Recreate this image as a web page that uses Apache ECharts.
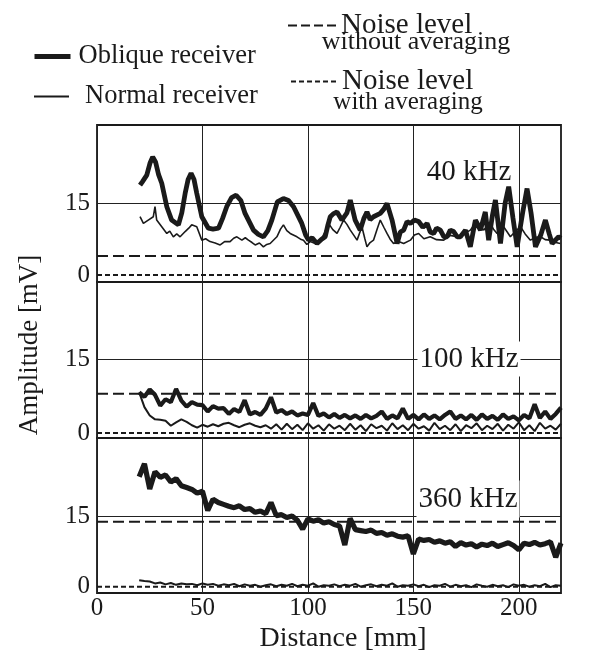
<!DOCTYPE html>
<html><head><meta charset="utf-8">
<script src="https://cdn.jsdelivr.net/npm/echarts@6/dist/echarts.min.js"></script>
<style>html,body{margin:0;padding:0;background:#fff}#c{width:589px;height:660px}</style>
</head><body><div id="c"></div><script>
// ---------- data ----------
const xTicks = [0, 50, 100, 150, 200];
const yTicks = [0, 15];
const panelLabels = ['40 kHz', '100 kHz', '360 kHz'];
const noiseWithout = [4.0, 8.0, 13.9];
const noiseWith = [0, 0, 0];

// 40 kHz  [distance mm, amplitude mV]
const p1Oblique = [[20.4,18.8],[21.5,19.5],[23.6,20.9],[25.2,23.5],[26.4,24.7],[27.8,23.6],[29.2,21.0],[30.7,19.2],[33.1,14.3],[35.4,11.5],[38.6,10.5],[40.2,13.0],[41.8,17.1],[43.2,20.0],[44.6,21.3],[46.0,20.0],[47.3,17.1],[49.7,12.2],[52.8,9.8],[55.0,9.6],[57.6,9.8],[59.5,11.8],[61.5,14.3],[63.8,16.2],[66.0,16.7],[68.2,15.6],[70.2,12.9],[74.2,9.4],[76.5,8.5],[78.9,8.0],[81.0,9.3],[82.9,11.5],[85.5,15.3],[88.4,16.0],[90.8,15.6],[93.2,14.3],[97.1,10.8],[99.0,8.3],[100.3,7.3],[102.0,7.8],[104.3,6.6],[106.5,7.5],[108.2,8.0],[109.5,10.5],[110.6,12.2],[112.0,12.8],[113.8,13.2],[116.1,11.5],[118.5,13.0],[120.1,15.7],[122.4,11.5],[124.8,9.4],[126.5,11.8],[128.0,13.2],[129.5,11.6],[131.1,12.2],[134.3,12.9],[136.0,13.8],[137.5,15.0],[139.9,11.5],[142.3,6.6],[143.8,9.0],[145.4,9.4],[147.0,11.2],[148.6,10.8],[150.5,11.5],[152.5,11.2],[154.5,10.0],[156.5,10.8],[158.0,9.0],[159.6,8.7],[161.0,9.8],[162.8,9.4],[164.5,8.0],[166.0,8.0],[167.5,9.4],[169.1,9.1],[170.8,8.0],[172.3,8.0],[174.7,9.4],[177.0,5.9],[179.4,11.5],[181.8,9.4],[184.1,13.2],[185.7,7.3],[187.5,12.5],[188.9,15.7],[191.3,6.6],[193.5,15.0],[195.2,18.5],[197.2,12.0],[199.2,5.9],[201.8,13.0],[203.9,18.1],[205.8,13.0],[207.9,5.9],[210.5,8.5],[212.6,11.5],[214.5,8.5],[215.8,6.6],[218.9,8.0],[220,7.7]];
const p1Normal = [[20.4,12.2],[22.0,10.8],[24.3,11.5],[26.7,12.2],[27.5,14.3],[28.3,11.5],[30.7,10.1],[33.1,8.7],[34.5,9.2],[36.2,8.0],[37.8,8.6],[39.4,8.0],[41.8,9.1],[43.5,9.8],[44.9,10.5],[47.3,10.1],[49.7,7.3],[51.5,7.6],[53.6,7.0],[56.0,6.7],[58.4,6.3],[60.5,7.0],[63.1,7.0],[64.8,7.7],[66.3,8.0],[68.7,7.3],[70.3,7.8],[71.8,7.3],[73.5,6.8],[75.0,6.3],[77.0,6.7],[78.9,5.9],[80.5,6.4],[82.1,6.6],[85.3,8.0],[87.0,9.6],[88.4,10.5],[90.0,9.3],[91.6,8.7],[94.8,8.0],[96.5,7.5],[97.9,7.3],[99.5,6.4],[101.1,7.0],[103.5,6.6],[105.8,7.0],[107.8,8.8],[109.8,10.8],[111.8,9.5],[113.8,8.7],[115.3,10.0],[116.9,11.5],[118.5,10.6],[120.1,9.4],[121.8,8.3],[123.3,7.3],[125.6,10.1],[127.0,7.6],[128.0,5.9],[129.5,6.8],[131.1,7.3],[132.8,9.6],[134.3,11.5],[136.0,10.0],[137.5,8.7],[139.0,7.5],[140.6,6.6],[143.0,7.0],[145.4,6.6],[148.6,7.3],[150.5,8.4],[152.5,8.7],[155.0,7.6],[158.0,8.0],[161.0,7.4],[164.4,7.3],[167.5,8.3],[170.7,8.0],[174.0,8.6],[177.0,9.4],[178.8,10.5],[180.2,11.5],[181.8,10.2],[183.3,9.4],[185.0,10.2],[186.5,10.8],[188.0,9.6],[189.7,8.7],[191.3,9.5],[192.8,10.1],[194.5,9.0],[196.0,8.0],[198.5,9.2],[200.8,10.1],[203.0,8.6],[205.5,7.3],[208.0,7.9],[210.3,8.0],[212.5,7.4],[215.0,7.3],[217.5,6.8],[219.7,6.6]];

// 100 kHz and 360 kHz sampled distances (mm)
const xDense = [20,22.5,25,27.5,30,32.5,35,37.5,40,42.5,
  45,47.5,50,52.5,55,57.5,60,62.5,65,67.5,
  70,72.5,75,77.5,80,82.5,85,87.5,90,92.5,
  95,97.5,100,102.5,105,107.5,110,112.5,115,117.5,
  120,122.5,125,127.5,130,132.5,135,137.5,140,142.5,
  145,147.5,150,152.5,155,157.5,160,162.5,165,167.5,
  170,172.5,175,177.5,180,182.5,185,187.5,190,192.5,
  195,197.5,200,202.5,205,207.5,210,212.5,215,217.5,
  220];
const p2Oblique = [8.3,7.4,8.9,7.8,5.6,6.9,6.3,9.0,6.6,5.4,
  6.3,5.8,5.7,4.4,5.5,5.0,5.1,3.9,4.9,4.3,
  6.7,3.8,4.3,3.7,5.0,7.3,4.2,4.7,3.9,4.4,
  3.6,4.0,3.7,6.1,3.5,4.0,3.2,3.9,3.1,3.7,
  3.0,3.6,2.9,3.7,3.0,3.5,4.4,2.9,3.6,3.0,
  5.0,2.9,3.7,2.8,3.8,2.9,3.6,2.8,3.7,4.4,
  2.9,3.6,2.8,3.7,2.7,3.8,2.9,3.5,2.7,3.8,
  2.9,3.4,2.6,3.7,3.0,5.9,3.1,4.4,2.9,3.9,
  5.2];
const p2Normal = [8.3,5.3,3.6,2.8,2.7,2.5,1.5,2.2,2.8,2.3,
  1.6,1.1,1.7,1.3,1.8,1.4,1.9,2.1,1.6,1.2,
  1.7,2.0,1.5,1.2,1.6,0.9,1.8,0.7,1.9,0.8,
  1.7,0.6,2.0,0.9,1.6,0.5,1.8,0.9,1.5,0.6,
  1.9,0.7,1.6,0.4,1.8,1.0,1.5,0.5,2.0,0.8,
  1.6,0.6,1.9,0.9,1.4,0.5,2.1,0.8,1.5,0.6,
  1.8,0.4,1.6,1.0,2.0,0.6,1.5,0.8,1.9,0.5,
  1.7,0.9,2.2,0.6,1.6,0.4,2.1,0.9,1.5,0.7,
  1.9];
const p3Oblique = [23.5,26.3,20.9,24.6,23.4,23.9,22.4,23.1,21.6,21.2,
  20.8,20.0,20.4,16.3,18.7,18.0,17.6,17.2,16.9,17.3,
  16.5,16.7,15.9,16.2,15.6,18.0,15.2,15.4,14.8,15.1,
  14.2,12.3,14.5,14.0,14.3,13.6,13.9,13.3,13.0,8.9,
  14.6,12.2,12.0,11.8,12.1,11.4,11.6,11.0,11.3,10.8,
  10.6,10.9,7.0,10.2,9.9,10.1,9.5,9.8,9.3,9.6,
  8.6,9.4,8.9,9.2,8.5,9.1,8.8,9.3,8.6,9.0,
  9.4,8.8,7.9,9.3,9.0,9.5,8.9,9.2,9.6,6.3,
  9.3];
const p3Normal = [1.4,1.2,1.1,0.7,0.9,0.5,0.8,0.4,0.7,0.5,
  0.6,0.3,0.7,0.4,0.6,0.2,0.5,0.3,0.6,0.1,
  0.5,0.2,0.4,0.0,0.3,0.5,0.1,0.4,0.2,0.6,
  0.1,0.4,0.2,0.7,0.0,0.3,0.2,0.5,0.1,0.4,
  0.2,0.6,0.0,0.3,0.5,0.1,0.4,0.2,0.7,0.0,
  0.3,0.2,0.5,0.1,0.4,-0.1,0.3,0.2,0.6,0.0,
  0.4,0.1,0.3,-0.1,0.5,0.2,0.0,0.4,0.1,0.3,
  -0.1,0.5,0.2,0.4,0.0,0.3,0.1,0.6,-0.1,0.3,
  0.2];

// ---------- build ----------
const FONT = 'Liberation Serif';
const INK = '#1a1a1a';
const zip = (xs, ys) => xs.map((x, i) => [x, ys[i]]);
const obliqueData = [p1Oblique, zip(xDense, p2Oblique), zip(xDense, p3Oblique)];
const normalData = [p1Normal, zip(xDense, p2Normal), zip(xDense, p3Normal)];
const yRanges = [[-1.46, 31.4], [-1.0, 30.8], [-1.35, 31.8]];
const gridBoxes = [[125, 157], [282, 156], [438, 155]];
const obliqueWidth = [4.8, 4.2, 5.2];
const normalWidth = [1.6, 2.0, 2.0];

const grid = gridBoxes.map(([top, height]) => ({
  left: 97, width: 464, top, height, show: true,
  borderColor: INK, borderWidth: 1.8, backgroundColor: 'transparent'
}));

const xAxis = [0, 1, 2].map(i => ({
  type: 'value', gridIndex: i, min: 0, max: 220,
  axisLine: { show: false },
  axisTick: { show: false, customValues: xTicks },
  splitLine: { show: true, lineStyle: { color: '#222', width: 1 } },
  axisLabel: { show: i === 2, customValues: xTicks, fontFamily: FONT, fontSize: 25, color: INK, margin: 3 },
  name: i === 2 ? 'Distance [mm]' : '',
  nameLocation: 'middle', nameGap: 32,
  nameTextStyle: { fontFamily: FONT, fontSize: 28, color: INK, padding: [0, 0, 0, 28] }
}));

const yAxis = [0, 1, 2].map(i => ({
  type: 'value', gridIndex: i, min: yRanges[i][0], max: yRanges[i][1],
  axisLine: { show: false },
  axisTick: { show: false, customValues: [15] },
  splitLine: { show: true, lineStyle: { color: '#222', width: 1 } },
  axisLabel: { customValues: yTicks, fontFamily: FONT, fontSize: 25, color: INK, margin: 7 },
  name: i === 1 ? 'Amplitude [mV]' : '',
  nameLocation: 'middle', nameGap: 54,
  nameTextStyle: { fontFamily: FONT, fontSize: 27, color: INK, padding: [0, 0, 0, 30] }
}));

const series = [];
[0, 1, 2].forEach(i => {
  series.push({
    name: 'Noise level without averaging', type: 'line', xAxisIndex: i, yAxisIndex: i,
    data: [[0, noiseWithout[i]], [220, noiseWithout[i]]], symbol: 'none', silent: true,
    lineStyle: { color: INK, width: 2, type: [11, 5] }, z: 2
  });
  series.push({
    name: 'Noise level with averaging', type: 'line', xAxisIndex: i, yAxisIndex: i,
    data: [[0, noiseWith[i]], [220, noiseWith[i]]], symbol: 'none', silent: true,
    lineStyle: { color: INK, width: 2, type: [5, 3] }, z: 2
  });
  series.push({
    name: 'Normal receiver', type: 'line', xAxisIndex: i, yAxisIndex: i,
    data: normalData[i], symbol: 'none', silent: true,
    lineStyle: { color: INK, width: normalWidth[i] }, z: 3
  });
  series.push({
    name: 'Oblique receiver', type: 'line', xAxisIndex: i, yAxisIndex: i,
    data: obliqueData[i], symbol: 'none', silent: true,
    lineStyle: { color: INK, width: obliqueWidth[i] }, z: 4
  });
});

const legendBase = {
  selectedMode: false, itemHeight: 14, orient: 'horizontal', padding: 0,
  itemStyle: { opacity: 0 }
};
const legend = [
  Object.assign({}, legendBase, { data: ['Oblique receiver'], left: 32, top: 43, itemWidth: 36,
    lineStyle: { width: 5 },
    textStyle: { fontFamily: FONT, fontSize: 26.5, color: INK, padding: [0, 0, 0, 3] } }),
  Object.assign({}, legendBase, { data: ['Normal receiver'], left: 33, top: 83, itemWidth: 35,
    lineStyle: { width: 2 },
    textStyle: { fontFamily: FONT, fontSize: 26.5, color: INK, padding: [0, 0, 8, 11] } }),
  Object.assign({}, legendBase, { data: ['Noise level without averaging'], left: 287, top: 11, itemWidth: 48,
    lineStyle: { width: 2, type: [9, 4] },
    formatter: () => 'Noise level',
    textStyle: { fontFamily: FONT, fontSize: 29, color: INK } }),
  Object.assign({}, legendBase, { data: ['Noise level with averaging'], left: 290, top: 67, itemWidth: 46,
    lineStyle: { width: 2, type: [5, 3] },
    formatter: () => 'Noise level',
    textStyle: { fontFamily: FONT, fontSize: 29, color: INK } })
];

const txt = (text, x, y, size, extra) => ({
  type: 'text', x, y, z: 1, silent: true,
  style: Object.assign({ text, fontFamily: FONT, fontSize: size, fill: INK, align: 'center', verticalAlign: 'middle' }, extra || {})
});

const graphic = [
  txt('without averaging', 416, 42, 26),
  txt('with averaging', 408, 102, 25),
  txt(panelLabels[0], 469, 172, 29),
  txt(panelLabels[1], 469, 359, 29, { backgroundColor: '#fff', padding: [3, 2, 3, 2] }),
  txt(panelLabels[2], 468, 499, 29, { backgroundColor: '#fff', padding: [5, 2, 3, 2] })
];

const chart = echarts.init(document.getElementById('c'), null, { renderer: 'canvas' });
chart.setOption({
  animation: false, backgroundColor: '#fff',
  grid, xAxis, yAxis, series, legend, graphic
});
</script></body></html>
